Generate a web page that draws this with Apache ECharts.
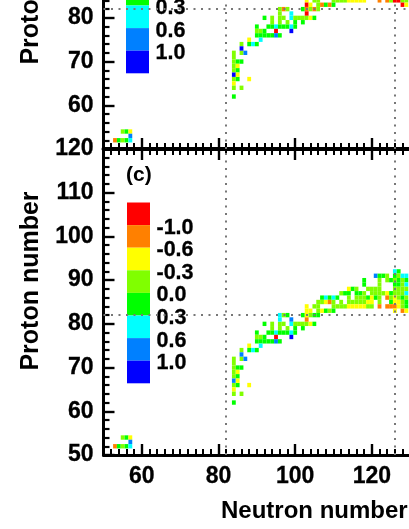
<!DOCTYPE html>
<html><head><meta charset="utf-8">
<style>html,body{margin:0;padding:0;background:#fff;overflow:hidden}#c{width:409px;height:529px}</style>
<script src="https://cdn.jsdelivr.net/npm/echarts@6/dist/echarts.min.js"></script>
</head><body><div id="c"></div>
<script>
// Colour bins: code letter -> colour and representative value of the bin
const binCodes  = ['R','O','Y','L','G','C','A','B'];
const binValues = [-1.2,-0.8,-0.45,-0.15,0.15,0.45,0.8,1.2];
const binColors = ['#ff0000','#ff8000','#ffff00','#80ff00','#00ff00','#00ffff','#0080ff','#0000ff'];
const legendLabels = ['-1.0','-0.6','-0.3','0.0','0.3','0.6','1.0'];
const xMajor = [60,80,100,120,140,160];
const magicN = [82,126];
const magicZ = [82];

// rows: [proton number, first neutron number, cell codes ('.' = empty)]
const rowsShared = [
 [80,92,'G.L.LL.CLLLLYG'],[79,94,'L.L.L.G.G'],[78,90,'G..GGCGGGCG'],[77,90,'LLG..R...B'],
 [76,90,'GGGGGAG'],[75,88,'Y..C'],[74,86,'L.GCG'],[72,84,'L.LA'],[71,84,'L'],[70,84,'LGG'],
 [69,84,'LY'],[68,84,'LG'],[66,84,'LG..Y'],[65,84,'Y'],[64,84,'L.L'],[62,84,'G'],
 [54,55,'LGY'],[53,57,'A'],[52,53,'OGLGC']
];
const rowsTopOnly = [
 [84,103,'Y.LL...LLLLYYYYY...O.OLRRLL'],[83,103,'RY.LOGOG.................RY'],
 [82,96,'LOL...GOLOL'],[81,96,'L..C...R'],[73,86,'B'],[67,84,'BY']
];
const rowsBottomOnly = [
 [92,126,'CG'],[91,121,'AGGL.GLCC'],[90,118,'G...L.LGLGLG'],[89,118,'G...L...GGLC'],
 [88,114,'YGL..LLLL...LLLL'],[87,112,'LGG.GGL.LLLLYGLLLC'],[86,107,'GCGCG..L.LLLGYGL.OLYLGL'],
 [85,106,'LLYOL.L.LLLLLYY.L..GYYLG'],[84,103,'Y.LL...LLLLYYYYYLL.O.OOOYLG'],
 [83,103,'YY.LYGLG...............Y.OY'],[82,96,'CLG...GYLGG'],[81,96,'C..A...O'],
 [73,86,'A'],[67,84,'AY']
];

function toCells(rows){
  const out=[];
  rows.forEach(function(r){
    for(let i=0;i<r[2].length;i++){
      const k=binCodes.indexOf(r[2][i]);
      if(k>=0) out.push([r[1]+i,r[0],binValues[k]]);
    }
  });
  return out;
}
function colorOf(v){ return binColors[binValues.indexOf(v)]; }

const AX='#000';
function renderCell(params,api){
  const p=api.coord([api.value(0)-0.5,api.value(1)+0.5]);
  const s=api.size([1,1]);
  return {type:'rect',shape:{x:p[0],y:p[1],width:s[0],height:s[1]},
    style:{fill:colorOf(api.value(2))}};
}
function cellSeries(idx,rows){
  return {type:'custom',xAxisIndex:idx.x,yAxisIndex:idx.y,clip:true,renderItem:renderCell,
    encode:{x:0,y:1},data:toCells(rows),silent:true,
    markLine:{silent:true,symbol:'none',animation:false,label:{show:false},
      lineStyle:{color:'#777777',type:[2,5.5],width:2},
      data:magicN.map(function(n){return {xAxis:n};}).concat(magicZ.map(function(z){return {yAxis:z};}))}};
}
const font='"Liberation Sans",Arial,sans-serif';
const tickText={margin:10,fontFamily:font,fontWeight:'bold',fontSize:23,color:'#000',textBorderColor:'#000',textBorderWidth:0.3};
function xMain(grid,pos,showLabel,extra){
  return Object.assign({type:'value',gridIndex:grid,position:pos,min:50,max:160,
    splitLine:{show:false},
    axisLine:{show:true,onZero:false,lineStyle:{color:AX,width:3}},
    axisTick:{show:true,inside:true,length:11,customValues:xMajor,lineStyle:{color:AX,width:2.4}},
    axisLabel:Object.assign({show:showLabel,customValues:xMajor},tickText)},extra||{});
}
function xMinor(grid,pos){
  return {type:'value',gridIndex:grid,position:pos,min:50,max:160,interval:2,
    splitLine:{show:false},axisLine:{show:false},axisLabel:{show:false},
    axisTick:{show:true,inside:true,length:6,lineStyle:{color:AX,width:2}}};
}
function yAxis(grid,extra){
  return Object.assign({type:'value',gridIndex:grid,min:50,max:120,interval:10,position:'left',
    splitLine:{show:false},minorSplitLine:{show:false},
    axisLine:{show:true,onZero:false,lineStyle:{color:AX,width:3}},
    axisTick:{show:true,inside:true,length:11,lineStyle:{color:AX,width:2.4}},
    minorTick:{show:true,splitNumber:5,length:6,lineStyle:{color:AX,width:2.2}},
    axisLabel:Object.assign({},tickText),
    name:'Proton number',nameLocation:'middle',nameRotate:90,nameGap:56,
    nameTextStyle:{fontFamily:font,fontWeight:'bold',fontSize:25,color:'#000',padding:[0,0,0,42]}},extra||{});
}
function legend(x0,y0){
  const out=[],h=22.6,w=23;
  binColors.forEach(function(c,i){
    out.push({type:'rect',silent:true,shape:{x:x0,y:y0+i*h,width:w,height:h},style:{fill:c}});
  });
  legendLabels.forEach(function(t,i){
    out.push({type:'text',silent:true,x:x0+29.5,y:y0+(i+1)*h+2.5,
      style:{text:t,fontFamily:font,fontWeight:'bold',fontSize:21.5,fill:'#000',stroke:'#000',lineWidth:0.3,align:'left',verticalAlign:'middle'}});
  });
  return out;
}
const chart=echarts.init(document.getElementById('c'),null,{renderer:'canvas',width:409,height:529});
chart.setOption({
  animation:false,backgroundColor:'#fff',
  grid:[
    {left:103.5,top:-157,width:421.7,height:306,outerBoundsMode:'none'},
    {left:103.5,top:149,width:421.7,height:306,outerBoundsMode:'none'}
  ],
  xAxis:[
    xMain(0,'bottom',false),xMinor(0,'bottom'),
    xMain(1,'bottom',true,{name:'Neutron number',nameLocation:'middle',nameGap:44,
      nameTextStyle:{fontFamily:font,fontWeight:'bold',fontSize:24,color:'#000'}}),
    xMinor(1,'bottom'),
    xMain(1,'top',false,{axisLine:{show:true,onZero:false,lineStyle:{color:AX,width:4}}}),xMinor(1,'top')
  ],
  yAxis:[ yAxis(0,{axisLabel:Object.assign({showMinLabel:false},tickText)}), yAxis(1) ],
  series:[
    cellSeries({x:0,y:0},rowsShared.concat(rowsTopOnly)),
    cellSeries({x:2,y:1},rowsShared.concat(rowsBottomOnly))
  ],
  graphic:{elements:legend(126,-107.5).concat(legend(127,202.5)).concat([
    {type:'text',silent:true,x:126,y:175,style:{text:'(c)',fontFamily:font,fontWeight:'bold',fontSize:21,fill:'#000',align:'left',verticalAlign:'middle'}}
  ])}
});
</script></body></html>
